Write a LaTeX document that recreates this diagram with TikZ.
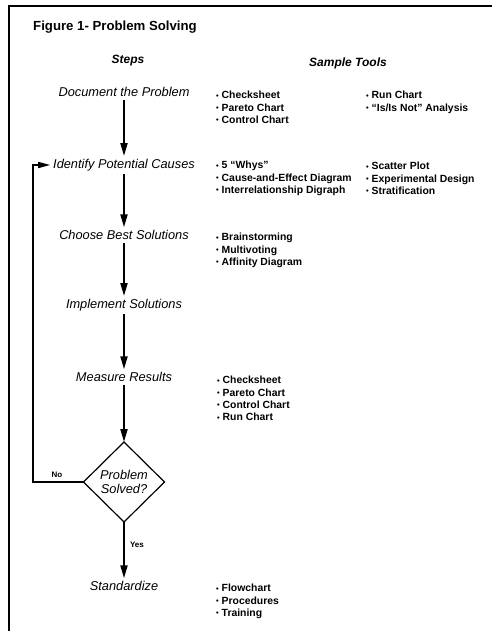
\documentclass[tikz,border=0pt]{standalone}
\usepackage{fontspec}
\setmainfont{Liberation Sans}
\usetikzlibrary{arrows.meta,shapes.geometric}
\newcommand\tbul{{\fontsize{7.5}{7.5}\selectfont\raisebox{0.6pt}{\textbullet}}\ }
\begin{document}
\begin{tikzpicture}[x=1pt,y=-1pt,
  stepnode/.style={font=\fontsize{12.8}{14}\selectfont\itshape, inner sep=0pt, outer sep=3pt},
  headnode/.style={font=\fontsize{12}{14}\selectfont\bfseries\itshape, inner sep=0pt},
  toolnode/.style={font=\fontsize{10.4}{12.4}\selectfont\bfseries, align=left, anchor=north west, inner sep=0pt},
  smalllbl/.style={font=\fontsize{8}{9}\selectfont\bfseries, inner sep=0pt},
  flow/.style={line width=2pt, -{Triangle[length=13pt,width=7pt]}},
  loop/.style={line width=1.5pt, -{Triangle[length=12pt,width=6pt]}},
  frame/.style={line width=2pt}
]
\useasboundingbox (0,0) rectangle (492,631);
\coordinate (fbl) at (9,631);
\coordinate (ftl) at (9,6);
\coordinate (ftr) at (492,6);
\draw[frame] (fbl) -- (ftl) -- (ftr);

\node[font=\fontsize{13.2}{15}\selectfont\bfseries, anchor=west, inner sep=0pt] (title) at (33,27) {Figure 1- Problem Solving};
\node[headnode] (steps) at (128,61) {Steps};
\node[headnode] (tools) at (348,63) {Sample Tools};

\node[stepnode] (s1) at (124,92) {Document the Problem};
\node[stepnode] (s2) at (124,165) {Identify Potential Causes};
\node[stepnode] (s3) at (124,235) {Choose Best Solutions};
\node[stepnode] (s4) at (124,305) {Implement Solutions};
\node[stepnode] (s5) at (124,377) {Measure Results};
\node[diamond, draw, line width=1.2pt, shape aspect=1, minimum width=81pt, minimum height=80pt, inner sep=0pt, outer sep=0pt, align=center, font=\fontsize{12.8}{14}\selectfont\itshape] (d) at (124,482) {Problem\\Solved?};
\node[stepnode] (s6) at (124,586) {Standardize};

\draw[flow] (s1) -- (s2);
\draw[flow] (s2) -- (s3);
\draw[flow] (s3) -- (s4);
\draw[flow] (s4) -- (s5);
\draw[flow] (s5) -- (d.north);
\draw[flow] (d.south) -- node[smalllbl, right=5pt, pos=0.4] (yes) {Yes} (s6);

\coordinate (loopx) at (33,0);
\draw[loop] (d.west) -- (d.west -| loopx) |- (s2.west);
\node[smalllbl] (no) at (57,475) {No};

\node[toolnode] (t1a) at (216,91) {\tbul Checksheet\\\tbul Pareto Chart\\\tbul Control Chart};
\node[toolnode] (t1b) at (366,91) {\tbul Run Chart\\\tbul “Is/Is Not” Analysis};
\node[toolnode] (t2a) at (216,161) {\tbul 5 “Whys”\\\tbul Cause-and-Effect Diagram\\\tbul Interrelationship Digraph};
\node[toolnode] (t2b) at (366,162) {\tbul Scatter Plot\\\tbul Experimental Design\\\tbul Stratification};
\node[toolnode] (t3) at (216,233) {\tbul Brainstorming\\\tbul Multivoting\\\tbul Affinity Diagram};
\node[toolnode] (t5) at (217,376) {\tbul Checksheet\\\tbul Pareto Chart\\\tbul Control Chart\\\tbul Run Chart};
\node[toolnode] (t6) at (216,584) {\tbul Flowchart\\\tbul Procedures\\\tbul Training};
\end{tikzpicture}
\end{document}
